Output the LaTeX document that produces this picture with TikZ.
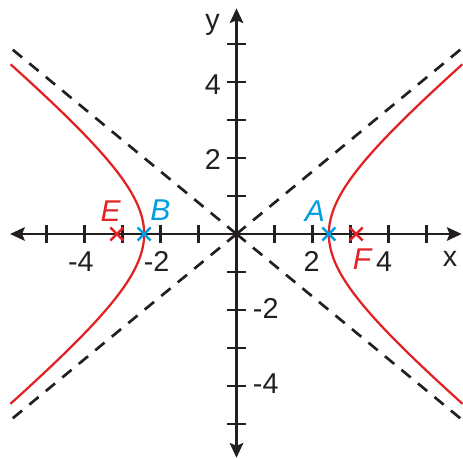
\documentclass[tikz,border=0pt]{standalone}
\usepackage{fontspec}
\setmainfont{Liberation Sans}
\usetikzlibrary{arrows.meta,calc}
\definecolor{ink}{RGB}{35,31,32}
\definecolor{hred}{RGB}{226,35,38}
\definecolor{hblue}{RGB}{0,157,224}
\begin{document}
\begin{tikzpicture}[x=1cm,y=1cm,
  axisline/.style={ink, line width=2.2pt, {Stealth[length=11pt,width=10pt,inset=2pt]}-{Stealth[length=11pt,width=10pt,inset=2pt]}},
  tickmark/.style={ink, line width=2.2pt},
  asym/.style={ink, line width=2pt, dash pattern=on 9pt off 7pt},
  curve/.style={hred, line width=1.7pt},
  lab/.style={text=ink, font=\fontsize{21.5}{21.5}\selectfont, inner sep=0pt},
  ptlab/.style={font=\fontsize{22.5}{22.5}\selectfont\itshape, inner sep=0pt, anchor=base},
  crossmark/.style={line width=1.8pt}
]
\useasboundingbox (-6.224,-5.921) rectangle (5.961,6.158);
% coordinates
\coordinate (O) at (0,0);
\coordinate (xl) at (-5.96,0);
\coordinate (xr) at (5.926,0);
\coordinate (yb) at (0,-5.89);
\coordinate (yt) at (0,5.94);
\coordinate (ur) at (5.95,4.9);
\coordinate (ul) at (-5.95,4.9);
\coordinate (lr) at (5.95,-4.9);
\coordinate (ll) at (-5.95,-4.9);
% asymptotes
\draw[asym] (O) -- (ur);
\draw[asym] (O) -- (ul);
\draw[asym] (O) -- (lr);
\draw[asym] (O) -- (ll);
% hyperbola
\draw[curve] plot[domain=-1.544:1.544, samples=80, smooth, variable=\t] ({2.43*cosh(\t)},{2*sinh(\t)});
\draw[curve] plot[domain=-1.544:1.544, samples=80, smooth, variable=\t] ({-2.43*cosh(\t)},{2*sinh(\t)});
% axes
\draw[axisline] (xl) -- (xr);
\draw[axisline] (yb) -- (yt);
% ticks
\foreach \i in {-5,-4,-3,-2,-1,1,2,3,4,5}{
  \draw[tickmark] (\i,-0.24) -- (\i,0.24);
  \draw[tickmark] (-0.25,\i) -- (0.25,\i);
}
% tick labels
\node[lab, anchor=base] (xm4) at (-4.097,-0.974) {-4};
\node[lab, anchor=base] (xm2) at (-2.1,-0.974) {-2};
\node[lab, anchor=base] (xp2) at (1.979,-0.974) {2};
\node[lab, anchor=base] (xp4) at (3.882,-0.974) {4};
\node[lab, anchor=base] (xname) at (5.618,-0.868) {x};
\node[lab, anchor=east] (yp4) at (-0.405,3.921) {4};
\node[lab, anchor=east] (yp2) at (-0.405,1.974) {2};
\node[lab, anchor=west] (ym2) at (0.426,-1.947) {-2};
\node[lab, anchor=west] (ym4) at (0.426,-3.947) {-4};
\node[lab, anchor=base] (yname) at (-0.632,5.38) {y};
% points
\foreach \nm/\px/\col in {A/2.43/hblue, B/-2.43/hblue, F/3.147/hred, E/-3.147/hred}{
  \coordinate (\nm) at (\px,0);
  \draw[crossmark, \col] ($(\nm)+(-0.171,-0.171)$) -- ($(\nm)+(0.171,0.171)$);
  \draw[crossmark, \col] ($(\nm)+(-0.171,0.171)$) -- ($(\nm)+(0.171,-0.171)$);
}
\node[ptlab, text=hblue] (Alab) at (2.066,0.324) {A};
\node[ptlab, text=hblue] (Blab) at (-2.0,0.368) {B};
\node[ptlab, text=hred] (Elab) at (-3.31,0.324) {E};
\node[ptlab, text=hred] (Flab) at (3.303,-0.947) {F};
\end{tikzpicture}
\end{document}
